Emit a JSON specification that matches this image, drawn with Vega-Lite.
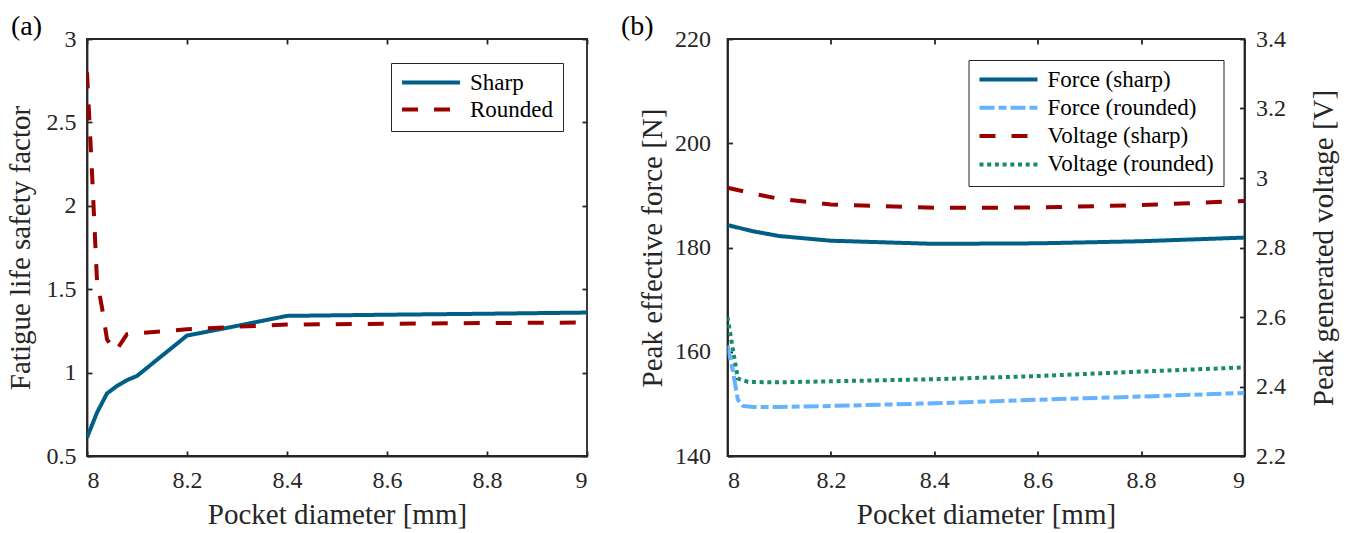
{
  "$schema": "https://vega.github.io/schema/vega-lite/v6.json",
  "padding": {"left": 5, "top": 12, "right": 0, "bottom": 0},
  "background": "white",
  "spacing": 140.5,
  "bounds": "flush",
  "resolve": {"scale": {"color": "independent", "strokeDash": "independent"}, "legend": {"color": "independent", "strokeDash": "independent"}},
  "config": {
    "font": "Liberation Serif",
    "view": {"stroke": "#262626", "strokeWidth": 1.8},
    "axis": {
      "grid": false,
      "domainColor": "#262626", "domainWidth": 1.8,
      "tickColor": "#262626", "tickWidth": 1.8, "tickSize": -5,
      "labelFont": "Liberation Serif", "labelFontSize": 24, "labelColor": "#262626", "labelPadding": 16,
      "titleFont": "Liberation Serif", "titleFontSize": 29, "titleFontWeight": "normal", "titleColor": "#262626"
    },
    "axisX": {"labelPadding": 17, "titlePadding": 8},
    "legend": {
      "labelFont": "Liberation Serif", "labelFontSize": 23, "labelColor": "#000000", "labelLimit": 400,
      "symbolType": "stroke", "symbolSize": 3364, "symbolStrokeWidth": 4, "clipHeight": 21,
      "strokeColor": "#262626", "fillColor": "white", "padding": 9, "labelOffset": 8, "rowPadding": 3
    },
    "title": {"font": "Liberation Serif", "fontSize": 28, "fontWeight": "normal", "color": "#000000", "frame": "group", "anchor": "start", "offset": -14}
  },
  "hconcat": [
    {
      "width": 500, "height": 417,
      "title": {"text": "(a)", "dx": -76},
      "data": {"values": [
        {"d": 8.0, "v": 0.61, "s": "Sharp"},
        {"d": 8.02, "v": 0.76, "s": "Sharp"},
        {"d": 8.04, "v": 0.875, "s": "Sharp"},
        {"d": 8.06, "v": 0.92, "s": "Sharp"},
        {"d": 8.08, "v": 0.955, "s": "Sharp"},
        {"d": 8.1, "v": 0.98, "s": "Sharp"},
        {"d": 8.2, "v": 1.222, "s": "Sharp"},
        {"d": 8.3, "v": 1.28, "s": "Sharp"},
        {"d": 8.4, "v": 1.34, "s": "Sharp"},
        {"d": 8.6, "v": 1.347, "s": "Sharp"},
        {"d": 8.8, "v": 1.353, "s": "Sharp"},
        {"d": 9.0, "v": 1.36, "s": "Sharp"},
        {"d": 8.0, "v": 2.8, "s": "Rounded"},
        {"d": 8.01, "v": 2.2, "s": "Rounded"},
        {"d": 8.02, "v": 1.55, "s": "Rounded"},
        {"d": 8.03, "v": 1.39, "s": "Rounded"},
        {"d": 8.04, "v": 1.2, "s": "Rounded"},
        {"d": 8.055, "v": 1.13, "s": "Rounded"},
        {"d": 8.06, "v": 1.14, "s": "Rounded"},
        {"d": 8.08, "v": 1.23, "s": "Rounded"},
        {"d": 8.1, "v": 1.235, "s": "Rounded"},
        {"d": 8.2, "v": 1.26, "s": "Rounded"},
        {"d": 8.3, "v": 1.275, "s": "Rounded"},
        {"d": 8.4, "v": 1.288, "s": "Rounded"},
        {"d": 8.6, "v": 1.293, "s": "Rounded"},
        {"d": 8.8, "v": 1.297, "s": "Rounded"},
        {"d": 9.0, "v": 1.3, "s": "Rounded"}
      ]},
      "resolve": {"axis": {"x": "independent", "y": "independent"}},
      "layer": [
        {
          "mark": {"type": "line", "strokeWidth": 4, "strokeCap": "butt", "clip": true},
          "encoding": {
            "x": {"field": "d", "type": "quantitative", "scale": {"domain": [8, 9], "nice": false},
                  "axis": {"values": [8, 8.2, 8.4, 8.6, 8.8, 9], "format": "~g", "title": "Pocket diameter [mm]"}},
            "y": {"field": "v", "type": "quantitative", "scale": {"domain": [0.5, 3], "nice": false, "zero": false},
                  "axis": {"values": [0.5, 1, 1.5, 2, 2.5, 3], "format": "~g", "title": "Fatigue life safety factor", "titlePadding": 11}},
            "color": {"field": "s", "type": "nominal", "scale": {"domain": ["Sharp", "Rounded"], "range": ["#005f87", "#990000"]},
                      "legend": {"title": null, "orient": "top-right", "offset": 24}},
            "strokeDash": {"field": "s", "type": "nominal", "scale": {"domain": ["Sharp", "Rounded"], "range": [[1, 0], [16, 16]]},
                      "legend": {"title": null, "orient": "top-right", "offset": 24}}
          }
        },
        {
          "mark": {"type": "line", "strokeOpacity": 0, "clip": true},
          "encoding": {
            "x": {"field": "d", "type": "quantitative",
                  "axis": {"orient": "top", "values": [8, 8.2, 8.4, 8.6, 8.8, 9], "labels": false, "title": null, "domain": false}},
            "y": {"field": "v", "type": "quantitative",
                  "axis": {"orient": "right", "values": [0.5, 1, 1.5, 2, 2.5, 3], "labels": false, "title": null, "domain": false}},
            "detail": {"field": "s"}
          }
        }
      ]
    },
    {
      "width": 517, "height": 417,
      "title": {"text": "(b)", "dx": -106.5},
      "resolve": {"scale": {"y": "independent"}, "axis": {"x": "independent"}},
      "layer": [
        {
          "data": {"values": [
            {"d": 8.0, "v": 184.3, "s": "Force (sharp)"},
            {"d": 8.05, "v": 183.1, "s": "Force (sharp)"},
            {"d": 8.1, "v": 182.2, "s": "Force (sharp)"},
            {"d": 8.2, "v": 181.3, "s": "Force (sharp)"},
            {"d": 8.4, "v": 180.7, "s": "Force (sharp)"},
            {"d": 8.6, "v": 180.8, "s": "Force (sharp)"},
            {"d": 8.8, "v": 181.2, "s": "Force (sharp)"},
            {"d": 9.0, "v": 181.9, "s": "Force (sharp)"},
            {"d": 8.0, "v": 161.2, "s": "Force (rounded)"},
            {"d": 8.01, "v": 156.5, "s": "Force (rounded)"},
            {"d": 8.02, "v": 150.8, "s": "Force (rounded)"},
            {"d": 8.03, "v": 149.6, "s": "Force (rounded)"},
            {"d": 8.05, "v": 149.4, "s": "Force (rounded)"},
            {"d": 8.1, "v": 149.4, "s": "Force (rounded)"},
            {"d": 8.2, "v": 149.6, "s": "Force (rounded)"},
            {"d": 8.4, "v": 150.1, "s": "Force (rounded)"},
            {"d": 8.6, "v": 150.8, "s": "Force (rounded)"},
            {"d": 8.8, "v": 151.4, "s": "Force (rounded)"},
            {"d": 9.0, "v": 152.1, "s": "Force (rounded)"}
          ]},
          "mark": {"type": "line", "strokeWidth": 4, "strokeCap": "butt", "clip": true},
          "encoding": {
            "x": {"field": "d", "type": "quantitative", "scale": {"domain": [8, 9], "nice": false},
                  "axis": {"values": [8, 8.2, 8.4, 8.6, 8.8, 9], "format": "~g", "title": "Pocket diameter [mm]"}},
            "y": {"field": "v", "type": "quantitative", "scale": {"domain": [140, 220], "nice": false, "zero": false},
                  "axis": {"values": [140, 160, 180, 200, 220], "title": "Peak effective force [N]", "orient": "left", "labelPadding": 22, "titlePadding": 7}},
            "color": {"field": "s", "type": "nominal",
                      "scale": {"domain": ["Force (sharp)", "Force (rounded)", "Voltage (sharp)", "Voltage (rounded)"], "range": ["#005f87", "#66b2ff", "#990000", "#1b8a6b"]},
                      "legend": {"title": null, "orient": "top-right", "offset": 21, "rowPadding": 4.3}},
            "strokeDash": {"field": "s", "type": "nominal",
                      "scale": {"domain": ["Force (sharp)", "Force (rounded)", "Voltage (sharp)", "Voltage (rounded)"], "range": [[1, 0], [15, 4, 8, 4], [16, 16], [4, 3.7]]},
                      "legend": {"title": null, "orient": "top-right", "offset": 21, "rowPadding": 4.3}}
          }
        },
        {
          "data": {"values": [
            {"d": 8.0, "v": 2.972, "s": "Voltage (sharp)"},
            {"d": 8.05, "v": 2.955, "s": "Voltage (sharp)"},
            {"d": 8.1, "v": 2.94, "s": "Voltage (sharp)"},
            {"d": 8.2, "v": 2.924, "s": "Voltage (sharp)"},
            {"d": 8.4, "v": 2.914, "s": "Voltage (sharp)"},
            {"d": 8.6, "v": 2.915, "s": "Voltage (sharp)"},
            {"d": 8.8, "v": 2.922, "s": "Voltage (sharp)"},
            {"d": 9.0, "v": 2.934, "s": "Voltage (sharp)"},
            {"d": 8.0, "v": 2.6, "s": "Voltage (rounded)"},
            {"d": 8.01, "v": 2.51, "s": "Voltage (rounded)"},
            {"d": 8.02, "v": 2.423, "s": "Voltage (rounded)"},
            {"d": 8.04, "v": 2.413, "s": "Voltage (rounded)"},
            {"d": 8.1, "v": 2.412, "s": "Voltage (rounded)"},
            {"d": 8.2, "v": 2.415, "s": "Voltage (rounded)"},
            {"d": 8.4, "v": 2.421, "s": "Voltage (rounded)"},
            {"d": 8.6, "v": 2.43, "s": "Voltage (rounded)"},
            {"d": 8.8, "v": 2.443, "s": "Voltage (rounded)"},
            {"d": 9.0, "v": 2.455, "s": "Voltage (rounded)"}
          ]},
          "mark": {"type": "line", "strokeWidth": 4, "strokeCap": "butt", "clip": true},
          "encoding": {
            "x": {"field": "d", "type": "quantitative", "scale": {"domain": [8, 9], "nice": false},
                  "axis": {"orient": "top", "values": [8, 8.2, 8.4, 8.6, 8.8, 9], "labels": false, "title": null, "domain": false}},
            "y": {"field": "v", "type": "quantitative", "scale": {"domain": [2.2, 3.4], "nice": false, "zero": false},
                  "axis": {"values": [2.2, 2.4, 2.6, 2.8, 3, 3.2, 3.4], "format": "~g", "title": "Peak generated voltage [V]", "orient": "right", "titleAngle": 270, "titleBaseline": "top", "labelPadding": 16, "titlePadding": 24}},
            "color": {"field": "s", "type": "nominal",
                      "scale": {"domain": ["Force (sharp)", "Force (rounded)", "Voltage (sharp)", "Voltage (rounded)"], "range": ["#005f87", "#66b2ff", "#990000", "#1b8a6b"]},
                      "legend": {"title": null, "orient": "top-right", "offset": 21, "rowPadding": 4.3}},
            "strokeDash": {"field": "s", "type": "nominal",
                      "scale": {"domain": ["Force (sharp)", "Force (rounded)", "Voltage (sharp)", "Voltage (rounded)"], "range": [[1, 0], [15, 4, 8, 4], [16, 16], [4, 3.7]]},
                      "legend": {"title": null, "orient": "top-right", "offset": 21, "rowPadding": 4.3}}
          }
        }
      ]
    }
  ]
}
